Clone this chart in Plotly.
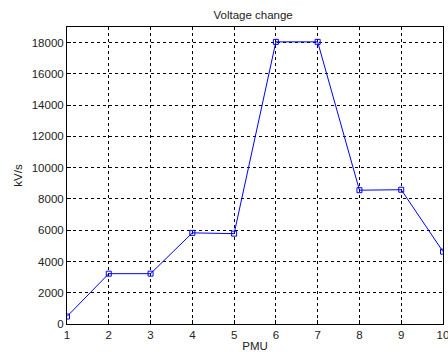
import plotly.graph_objects as go

pmu = [1, 2, 3, 4, 5, 6, 7, 8, 9, 10]
kv_per_s = [480, 3220, 3220, 5830, 5780, 18050, 18050, 8560, 8590, 4630]
y_ticks = [0, 2000, 4000, 6000, 8000, 10000, 12000, 14000, 16000, 18000]
y_labels = [str(v) for v in y_ticks]
x_labels = [str(v) for v in pmu]

fig = go.Figure()
fig.add_trace(go.Scatter(
    x=pmu, y=kv_per_s, mode="lines+markers",
    line=dict(color="#0000FF", width=1),
    marker=dict(symbol="square-open", size=5, color="#0000FF", line=dict(width=1)),
    showlegend=False,
))

font = dict(family="Liberation Sans, Arial, sans-serif", size=11.5, color="#222222")
axis_common = dict(
    showline=True, linecolor="black", linewidth=1, mirror=True,
    showgrid=True, gridcolor="black", gridwidth=1, griddash="3px,3px",
    ticks="inside", ticklen=4, tickcolor="black",
    zeroline=False, tickfont=font, automargin=False,
    ticklabeloverflow="allow",
)
fig.update_layout(
    width=448, height=352,
    margin=dict(l=67, r=5, t=27, b=28),
    paper_bgcolor="white", plot_bgcolor="white",
    title=dict(text="Voltage change", x=0.565, xanchor="center", y=1 - 15/352, yanchor="middle",
               font=font),
    xaxis=dict(range=[1, 10], tickvals=pmu, ticktext=x_labels,
               title=dict(text="PMU", font=font, standoff=4), **axis_common),
    yaxis=dict(range=[0, 19000], tickvals=y_ticks, ticktext=y_labels,
               title=dict(text="kV/s", font=font, standoff=6), **axis_common),
)
fig.write_html("out.html")
